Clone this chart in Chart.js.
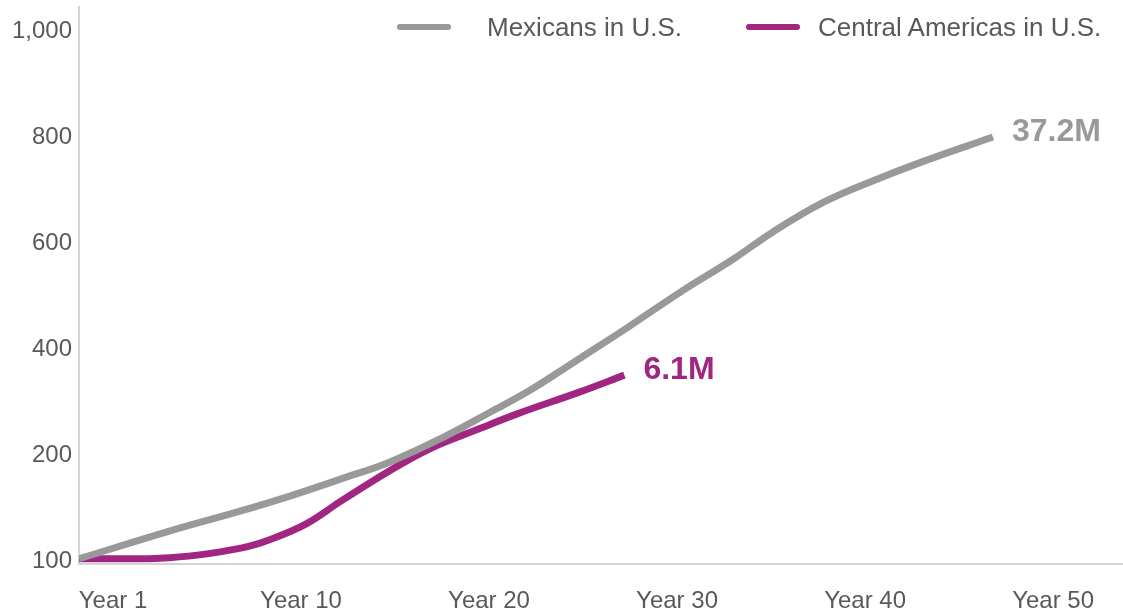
<!DOCTYPE html>
<html>
<head>
<meta charset="utf-8">
<script src="https://cdn.jsdelivr.net/npm/chart.js@4/dist/chart.umd.min.js"></script>
<style>
  html, body { margin: 0; padding: 0; background: #fff; }
  #wrap { position: relative; width: 1123px; height: 613px; }
  #legend {
    position: absolute; top: 0; left: 0; width: 1123px; height: 56px;
    font-family: "Liberation Sans", Arial, sans-serif; font-size: 26px; color: #595959;
    white-space: nowrap;
  }
  #legend .sw { position: absolute; top: 24px; width: 54px; height: 6px; border-radius: 3px; }
  #legend .txt { position: absolute; top: 12px; line-height: 30px; }
</style>
</head>
<body>
<div id="wrap">
  <canvas id="chart" width="1123" height="613"></canvas>
  <div id="legend"></div>
</div>
<script>
// x axis: position 0 is "Year 1", then every 10
const tickYears = [0, 10, 20, 30, 40, 50];
const tickYearLabels = ['Year 1', 'Year 10', 'Year 20', 'Year 30', 'Year 40', 'Year 50'];

// y axis ticks are evenly spaced even though the values are not
const yTickValues = [100, 200, 400, 600, 800, 1000];
const yTickLabels = ['100', '200', '400', '600', '800', '1,000'];

const mexX = [-1.8, 3, 6.8, 9.4, 12.1, 14.7, 17.4, 20.1, 22.2, 24.8, 27.5, 30.2, 33, 35.1, 37.8, 40.4, 43.1, 46.8];
const mexY = [101, 127, 146, 160, 176, 192, 228, 279, 320, 379, 441, 505, 567, 618, 674, 714, 751, 797];

const camX = [-1.8, 3, 6.8, 8.5, 10.3, 12.1, 13.8, 15.6, 17.4, 19.2, 21.5, 24.8, 27.2];
const camY = [101, 102, 111, 120, 134, 155, 174, 193, 218, 243, 275, 316, 348];

const seriesNames = ['Mexicans in U.S.', 'Central Americas in U.S.'];
const endLabels = ['37.2M', '6.1M'];
const colors = ['#999999', '#a02682'];

// map a value onto the evenly spaced tick index
function yPos(v) {
    for (let i = 0; i < yTickValues.length - 1; i++) {
        const a = yTickValues[i], b = yTickValues[i + 1];
        if (v <= b || i === yTickValues.length - 2) return i + (v - a) / (b - a);
    }
}

function toPoints(xs, ys) {
    return xs.map((x, i) => ({ x: x, y: yPos(ys[i]) }));
}

const font = "'Liberation Sans', Arial, sans-serif";

const endLabelPlugin = {
    id: 'endLabels',
    afterDatasetsDraw(chart) {
        const ctx = chart.ctx;
        ctx.save();
        ctx.font = 'bold 32px ' + font;
        ctx.textBaseline = 'middle';
        ctx.textAlign = 'left';
        chart.data.datasets.forEach((ds, i) => {
            const meta = chart.getDatasetMeta(i);
            const last = meta.data[meta.data.length - 1];
            ctx.fillStyle = colors[i];
            ctx.fillText(endLabels[i], last.x + 19, last.y - 5);
        });
        ctx.restore();
    }
};

const chart = new Chart(document.getElementById('chart'), {
    type: 'line',
    data: {
        datasets: [{
            label: seriesNames[0],
            data: toPoints(mexX, mexY),
            borderColor: colors[0],
            borderWidth: 7,
            pointRadius: 0,
            tension: 0.4
        }, {
            label: seriesNames[1],
            data: toPoints(camX, camY),
            borderColor: colors[1],
            borderWidth: 7,
            pointRadius: 0,
            tension: 0.4
        }]
    },
    options: {
        responsive: false,
        animation: false,
        layout: { padding: { top: 7, right: 0, left: 0, bottom: 0 } },
        plugins: { legend: { display: false }, tooltip: { enabled: false } },
        scales: {
            x: {
                type: 'linear',
                min: -1.81,
                max: 53.72,
                afterBuildTicks: s => { s.ticks = tickYears.map(v => ({ value: v })); },
                afterFit: s => { s.height = 49; s.paddingLeft = 0; s.paddingRight = 0; },
                grid: { display: false, drawTicks: false },
                border: { color: '#d4d4d4', width: 2 },
                ticks: {
                    padding: 23,
                    maxRotation: 0,
                    color: '#595959',
                    font: { family: font, size: 24 },
                    callback: (v) => tickYearLabels[tickYears.indexOf(v)]
                }
            },
            y: {
                type: 'linear',
                min: -0.04,
                max: 5.21,
                afterBuildTicks: s => { s.ticks = yTickValues.map((v, i) => ({ value: i })); },
                afterFit: s => { s.width = 79; s.paddingTop = 0; s.paddingBottom = 0; },
                grid: { display: false, drawTicks: false },
                border: { color: '#d4d4d4', width: 2 },
                ticks: {
                    padding: 7,
                    labelOffset: 2,
                    color: '#595959',
                    font: { family: font, size: 24 },
                    callback: (v) => yTickLabels[v]
                }
            }
        }
    },
    plugins: [endLabelPlugin]
});

// html legend, placed like the original
const legendPos = [{ sw: 397, txt: 487 }, { sw: 746, txt: 818 }];
const legend = document.getElementById('legend');
seriesNames.forEach((name, i) => {
    const sw = document.createElement('span');
    sw.className = 'sw';
    sw.style.left = legendPos[i].sw + 'px';
    sw.style.background = colors[i];
    const txt = document.createElement('span');
    txt.className = 'txt';
    txt.style.left = legendPos[i].txt + 'px';
    txt.textContent = name;
    legend.appendChild(sw);
    legend.appendChild(txt);
});
</script>
</body>
</html>
